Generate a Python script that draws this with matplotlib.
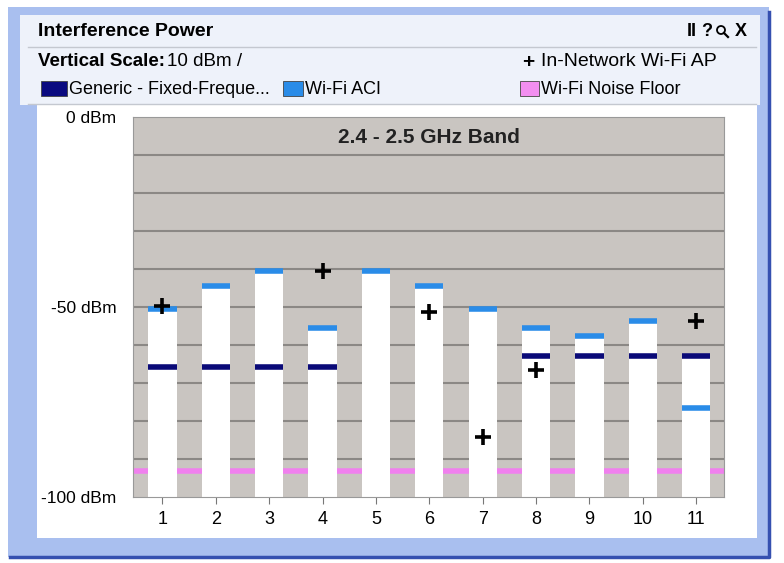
import numpy as np
import matplotlib.pyplot as plt
from matplotlib.patches import Rectangle, Circle

# channel data (dBm)
channels = [1, 2, 3, 4, 5, 6, 7, 8, 9, 10, 11]
bar_top = [-50.5, -44.5, -40.5, -55.5, -40.5, -44.5, -50.5, -55.5, -57.6, -53.7, -63.0]
wifi_aci = [-50.5, -44.5, -40.5, -55.5, -40.5, -44.5, -50.5, -55.5, -57.6, -53.7, -76.6]
generic = [-65.8, -65.8, -65.8, -65.8, np.nan, np.nan, np.nan, -63.0, -63.0, -63.0, -63.0]
ap_channels = [1, 4, 6, 7, 8, 11]
ap_power = [-49.7, -40.5, -51.3, -84.2, -66.6, -53.7]
noise_floor = -93.2
ytick_vals = [0, -50, -100]
ytick_labels = ['0 dBm', '-50 dBm', '-100 dBm']

plt.rcParams['font.family'] = ['Liberation Sans', 'DejaVu Sans']

fig = plt.figure(figsize=(7.84, 5.63), dpi=100)
fig.patch.set_facecolor('white')

# window frame, pixel coordinates
bg = fig.add_axes([0, 0, 1, 1])
bg.set_xlim(0, 784)
bg.set_ylim(563, 0)
bg.axis('off')
bg.add_patch(Rectangle((8, 7), 761, 550, fc='#a9bfef', ec='none'))
bg.plot([769, 769, 10], [12, 557, 557], color='#3550b0', lw=2.5)
bg.add_patch(Rectangle((20, 15), 740, 90, fc='#eef2fa', ec='none'))
bg.add_patch(Rectangle((37, 105), 720, 433, fc='white', ec='none'))
bg.plot([28, 756], [47, 47], color='#c4c8d0', lw=1)
bg.plot([28, 756], [104, 104], color='#c4c8d0', lw=1)

bg.text(38, 32, 'Interference Power', fontsize=14, fontweight='bold', va='center')
# toolbar icons
bg.text(687, 32, 'II', fontsize=13, fontweight='bold', va='center')
bg.text(701, 32, '?', fontsize=13, fontweight='bold', va='center')
bg.add_patch(Circle((721, 30), 4, fc='none', ec='black', lw=1.3))
bg.plot([724, 728], [33, 37], color='black', lw=1.6)
bg.text(735, 32, 'X', fontsize=13, fontweight='bold', va='center')

bg.text(38, 61, 'Vertical Scale:', fontsize=13.5, fontweight='bold', va='center')
bg.text(167, 61, '10 dBm /', fontsize=13.5, va='center')
bg.text(522, 62, '+', fontsize=15, fontweight='bold', va='center')
bg.text(541, 61, 'In-Network Wi-Fi AP', fontsize=14, va='center')

legend_items = [(41, 26, '#0a0a80', 'Generic - Fixed-Freque...'),
                (283, 20, '#2a8ce8', 'Wi-Fi ACI'),
                (520, 19, '#f28ef0', 'Wi-Fi Noise Floor')]
for lx, lw_, c, lab in legend_items:
    bg.add_patch(Rectangle((lx, 81), lw_, 15, fc=c, ec='#444444', lw=0.6))
    bg.text(lx + lw_ + 2, 89, lab, fontsize=13, va='center')

# chart
ax = fig.add_axes([133 / 784, 1 - 497 / 563, 591 / 784, 380 / 563])
ax.set_facecolor('#c9c5c1')
ax.set_xlim(0.45, 11.52)
ax.set_ylim(-100, 0)
for g in range(-90, 0, 10):
    ax.axhline(g, color='#8b8885', lw=1.5, zorder=1)
ax.axhline(noise_floor, color='#f080ee', lw=4, zorder=1.5)

w = 0.53
x = np.array(channels)
ax.bar(x, np.array(bar_top) + 100, bottom=-100, width=w, color='white', zorder=2)
ax.hlines(wifi_aci, x - w / 2, x + w / 2, color='#2a8ce8', lw=4, zorder=3)
ax.hlines(generic, x - w / 2, x + w / 2, color='#0a0a78', lw=4, zorder=3)
ax.plot(ap_channels, ap_power, '+', color='black', ms=12, mew=2.6, zorder=4)

ax.text(0.5, 0.97, '2.4 - 2.5 GHz Band', transform=ax.transAxes, ha='center', va='top',
        fontsize=15, fontweight='bold', color='#222222')

ax.set_xticks(channels)
ax.set_xticklabels([str(c) for c in channels], fontsize=13)
ax.set_yticks(ytick_vals)
ax.set_yticklabels(ytick_labels, fontsize=12.5)
ax.tick_params(axis='y', length=0, pad=12)
ax.tick_params(axis='x', length=5, color='#777777', pad=5)
for s in ax.spines.values():
    s.set_color('#999999')

fig.savefig('out.png', dpi=100, facecolor=fig.get_facecolor())
